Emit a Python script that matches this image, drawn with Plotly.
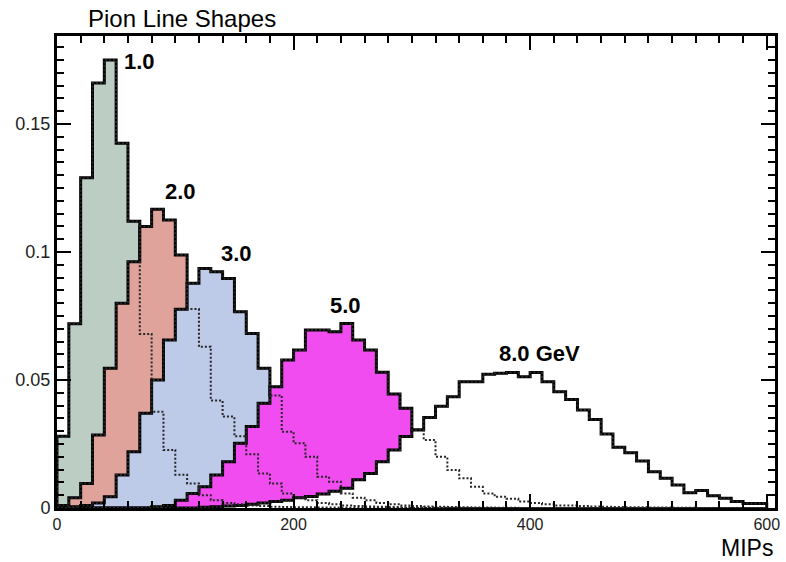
import numpy as np
import plotly.graph_objects as go

# ---- data (normalised pion line shapes, 10-MIP bins from 0 to 600) ----
bin_edges = np.arange(0, 601, 10)

e1_0 = [0.028, 0.072, 0.129, 0.166, 0.175, 0.1425, 0.112, 0.068, 0.0376, 0.0227,
        0.013, 0.0096, 0.005, 0.003, 0.002, 0.0015, 0.001, 0.0008, 0.0005, 0.0004,
        0.0003, 0.0003, 0.0002, 0.0002, 0.0001, 0.0001, 0, 0, 0, 0,
        0, 0, 0, 0, 0, 0, 0, 0, 0, 0,
        0, 0, 0, 0, 0, 0, 0, 0, 0, 0,
        0, 0, 0, 0, 0, 0, 0, 0, 0, 0]

e2_0 = [0.001, 0.004, 0.0096, 0.0285, 0.0546, 0.080, 0.0962, 0.110, 0.1167, 0.1125,
        0.0988, 0.0777, 0.063, 0.042, 0.0357, 0.028, 0.021, 0.0135, 0.0096, 0.0057,
        0.0039, 0.003, 0.002, 0.0015, 0.001, 0.0008, 0.0006, 0.0005, 0.0004, 0.0003,
        0.0002, 0.0002, 0.0001, 0.0001, 0, 0, 0, 0, 0, 0,
        0, 0, 0, 0, 0, 0, 0, 0, 0, 0,
        0, 0, 0, 0, 0, 0, 0, 0, 0, 0]

e3_0 = [0, 0.0005, 0.001, 0.002, 0.0044, 0.0129, 0.022, 0.037, 0.050, 0.0656,
        0.0776, 0.0878, 0.0936, 0.0923, 0.0897, 0.0767, 0.0682, 0.0546, 0.044, 0.0298,
        0.0253, 0.020, 0.0122, 0.0103, 0.0057, 0.004, 0.003, 0.002, 0.0015, 0.001,
        0.0008, 0.0006, 0.0005, 0.0004, 0.0003, 0.0002, 0.0002, 0.0001, 0.0001, 0,
        0, 0, 0, 0, 0, 0, 0, 0, 0, 0,
        0, 0, 0, 0, 0, 0, 0, 0, 0, 0]

e5_0 = [0, 0, 0, 0, 0, 0, 0, 0, 0.0005, 0.001,
        0.003, 0.0057, 0.0083, 0.0129, 0.0181, 0.0253, 0.0318, 0.0409, 0.0474, 0.0578,
        0.0617, 0.0695, 0.0695, 0.0689, 0.0721, 0.0656, 0.0617, 0.053, 0.0445, 0.039,
        0.0305, 0.0266, 0.020, 0.0148, 0.0116, 0.0083, 0.0057, 0.0044, 0.0036, 0.0025,
        0.002, 0.0015, 0.001, 0.001, 0.0008, 0.0006, 0.0005, 0.0004, 0.0003, 0.0003,
        0.0002, 0.0002, 0.0001, 0.0001, 0, 0, 0, 0, 0, 0]

e8_0 = [0, 0, 0, 0, 0, 0, 0, 0, 0, 0,
        0, 0, 0.0003, 0.0005, 0.0008, 0.001, 0.0015, 0.002, 0.0025, 0.003,
        0.004, 0.0045, 0.0055, 0.0065, 0.0077, 0.011, 0.0135, 0.0181, 0.0227, 0.0279,
        0.0305, 0.0354, 0.0398, 0.0435, 0.0493, 0.0493, 0.0523, 0.0526, 0.0529, 0.0513,
        0.0529, 0.0493, 0.0454, 0.0424, 0.0383, 0.0346, 0.0289, 0.0237, 0.0216, 0.0184,
        0.0142, 0.0116, 0.009, 0.006, 0.0068, 0.0048, 0.0038, 0.0025, 0.0018, 0.0018]

series_labels = ["1.0", "2.0", "3.0", "5.0", "8.0 GeV"]
series_values = [e1_0, e2_0, e3_0, e5_0, e8_0]
fill_colors = ["#bccdc4", "#e0a39b", "#bdcae8", "#f04cf0", "#ffffff"]
label_pos_x = [70, 104, 152, 244, 408]
label_pos_y = [0.1745, 0.1238, 0.0996, 0.0793, 0.0605]

FONT = "Liberation Sans, Arial, sans-serif"


def step_xy(vals):
    xs = [bin_edges[0]] + list(bin_edges[:-1]) + [bin_edges[-1]]
    ys = [0] + list(vals) + [0]
    return xs, ys


fig = go.Figure()

# filled histograms, drawn in order (later ones on top), each with a solid outline
for vals, col in zip(series_values, fill_colors):
    xs, ys = step_xy(vals)
    fig.add_trace(go.Scatter(x=xs, y=ys, mode="lines", line_shape="hv",
                             fill="tozeroy", fillcolor=col,
                             line=dict(width=0, color=col), hoverinfo="skip",
                             showlegend=False))
    fig.add_trace(go.Scatter(x=xs, y=ys, mode="lines", line_shape="hv",
                             line=dict(width=3, color="black"), hoverinfo="skip",
                             showlegend=False))

# hidden outlines showing through the hatched fills (dotted)
for vals in series_values:
    xs, ys = step_xy(vals)
    fig.add_trace(go.Scatter(x=xs, y=ys, mode="lines", line_shape="hv",
                             line=dict(width=2, color="#262626", dash="2px,2px"),
                             hoverinfo="skip", showlegend=False))

annotations = []
for lab, lx, ly in zip(series_labels, label_pos_x, label_pos_y):
    annotations.append(dict(x=lx, y=ly, xref="x", yref="y", text="<b>%s</b>" % lab,
                            showarrow=False, xanchor="center", yanchor="middle",
                            font=dict(family=FONT, size=22, color="black")))

annotations.append(dict(x=0.041, y=1.038, xref="paper", yref="paper",
                        text="Pion Line Shapes", showarrow=False,
                        xanchor="left", yanchor="middle",
                        font=dict(family=FONT, size=24, color="black")))
annotations.append(dict(x=1.0, y=-0.085, xref="paper", yref="paper",
                        text="MIPs", showarrow=False,
                        xanchor="right", yanchor="middle",
                        font=dict(family=FONT, size=23, color="black")))

axis_common = dict(showgrid=False, zeroline=False, showline=True, linewidth=3,
                   linecolor="black", mirror="allticks", ticks="inside",
                   tickcolor="black", tickwidth=1.5)

fig.update_layout(
    width=786, height=562,
    margin=dict(l=57, r=6, t=36, b=54),
    paper_bgcolor="white", plot_bgcolor="white",
    annotations=annotations,
    xaxis=dict(range=[0, 607], tickvals=[0, 200, 400, 600], ticklen=14,
               tickfont=dict(family=FONT, size=16, color="#222222"),
               minor=dict(dtick=20, ticks="inside", ticklen=7, tickcolor="black",
                          tickwidth=1.5),
               **axis_common),
    yaxis=dict(range=[0, 0.1844], tickvals=[0, 0.05, 0.1, 0.15],
               ticktext=["0", "0.05", "0.1", "0.15"], ticklen=14,
               tickfont=dict(family=FONT, size=18, color="#222222"),
               minor=dict(dtick=0.005, ticks="inside", ticklen=7, tickcolor="black",
                          tickwidth=1.5),
               **axis_common),
)

fig.write_html("out.html")
